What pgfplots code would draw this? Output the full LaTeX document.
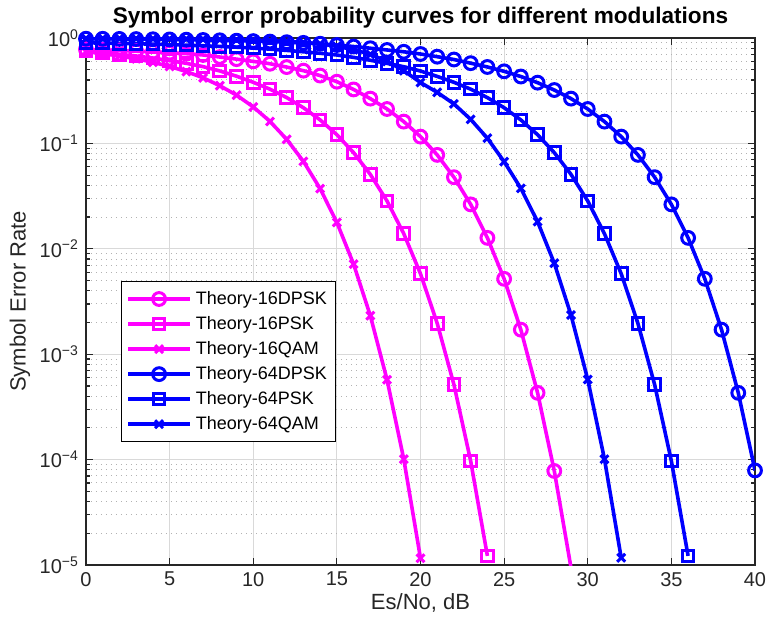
\documentclass[border=0pt]{standalone}
\usepackage{fontspec}
\setmainfont{Liberation Sans}
\usepackage{pgfplots}
\pgfplotsset{compat=1.18}

\definecolor{mag}{RGB}{255,0,255}
\definecolor{blu}{RGB}{0,0,255}

\begin{document}
\begin{tikzpicture}
\begin{axis}[
    at={(0,0)}, anchor=south west,
    scale only axis,
    width=334.5pt, height=263.5pt,
    ymode=log,
    xmin=0, xmax=40, ymin=1e-5, ymax=1,
    xtick={0,5,...,40}, minor x tick num=0,
    ytick={1e-5,1e-4,1e-3,1e-2,1e-1,1},
    yticklabels={10\textsuperscript{−5},10\textsuperscript{−4},10\textsuperscript{−3},10\textsuperscript{−2},10\textsuperscript{−1},10\textsuperscript{0}},
    minor ytick={2e-5,3e-5,4e-5,5e-5,6e-5,7e-5,8e-5,9e-5,
                 2e-4,3e-4,4e-4,5e-4,6e-4,7e-4,8e-4,9e-4,
                 2e-3,3e-3,4e-3,5e-3,6e-3,7e-3,8e-3,9e-3,
                 2e-2,3e-2,4e-2,5e-2,6e-2,7e-2,8e-2,9e-2,
                 0.2,0.3,0.4,0.5,0.6,0.7,0.8,0.9},
    xmajorgrids, ymajorgrids, yminorgrids,
    major grid style={black!15, line width=0.5pt},
    minor grid style={black!30, line width=0.5pt, dash pattern=on 0.5pt off 2pt},
    tick style={black!85, line width=0.6pt},
    major tick length=3.5pt, minor tick length=2pt,
    axis line style={black!85, line width=0.7pt},
    /pgf/number format/assume math mode=true,
    tick label style={font=\fontsize{10}{12}\selectfont, text=black!85},
    xlabel={Es/No, dB},
    ylabel={Symbol Error Rate},
    label style={font=\fontsize{11}{13}\selectfont, text=black!85},
    xlabel style={at={(axis description cs:0.5,0)}, anchor=center, yshift=-19pt},
    ylabel style={at={(axis description cs:-0.0987,0.5)}, anchor=center},
    title={Symbol error probability curves for different modulations},
    title style={font=\fontsize{11.3}{13}\selectfont\bfseries, at={(axis description cs:0.5,1)}, anchor=center, yshift=4pt},
    legend style={at={(0.052,0.538)}, anchor=north west, draw=black, line width=0.5pt,
        fill=white, font=\fontsize{9}{11}\selectfont, row sep=0.5pt, inner sep=2.5pt},
    legend cell align=left,
    legend image code/.code={\draw[mark repeat=2,mark phase=2] plot coordinates {(0pt,0pt) (15.5pt,0pt) (31pt,0pt)};},
    every axis plot/.append style={line width=1.8pt, mark options={solid, line width=1.5pt}},
]

% 16DPSK
\addplot[mag, mark=o, mark size=3.2pt] coordinates {
 (0,0.78) (1,0.77) (2,0.76) (3,0.75) (4,0.74) (5,0.725) (6,0.71) (7,0.69) (8,0.66) (9,0.63)
 (10,0.60) (11,0.57) (12,0.53) (13,0.49) (14,0.44) (15,0.385) (16,0.325) (17,0.266) (18,0.212) (19,0.161)
 (20,0.116) (21,0.0778) (22,0.0478) (23,0.0264) (24,0.0127) (25,0.00519) (26,0.00171) (27,4.3e-4) (28,7.8e-5)
};
\addlegendentry{Theory-16DPSK}
\addplot[mag, forget plot] coordinates {(28,7.8e-5) (29,9.4e-6)};

% 16PSK
\addplot[mag, mark=square, mark size=2.9pt] coordinates {
 (0,0.75) (1,0.725) (2,0.70) (3,0.675) (4,0.645) (5,0.61) (6,0.575) (7,0.535) (8,0.487) (9,0.434)
 (10,0.38) (11,0.327) (12,0.272) (13,0.218) (14,0.167) (15,0.121) (16,0.0817) (17,0.0508) (18,0.0284) (19,0.0139)
 (20,0.0058) (21,0.00196) (22,5.14e-4) (23,9.7e-5) (24,1.22e-5)
};
\addlegendentry{Theory-16PSK}

% 16QAM
\addplot[mag, mark=x, mark size=2.8pt] coordinates {
 (0,0.741) (1,0.710) (2,0.675) (3,0.635) (4,0.589) (5,0.537) (6,0.4805) (7,0.419) (8,0.353) (9,0.287)
 (10,0.222) (11,0.1617) (12,0.1093) (13,0.0675) (14,0.0372) (15,0.01778) (16,0.00716) (17,0.00232) (18,5.72e-4) (19,1.01e-4)
 (20,1.16e-5)
};
\addlegendentry{Theory-16QAM}

% 64DPSK
\addplot[blu, mark=o, mark size=3.2pt] coordinates {
 (0,0.985) (1,0.983) (2,0.98) (3,0.977) (4,0.973) (5,0.969) (6,0.964) (7,0.958) (8,0.951) (9,0.943)
 (10,0.934) (11,0.924) (12,0.912) (13,0.899) (14,0.882) (15,0.858) (16,0.83) (17,0.80) (18,0.77) (19,0.74)
 (20,0.705) (21,0.665) (22,0.625) (23,0.577) (24,0.531) (25,0.483) (26,0.431) (27,0.377) (28,0.321) (29,0.266)
 (30,0.212) (31,0.161) (32,0.116) (33,0.0778) (34,0.0478) (35,0.0264) (36,0.0127) (37,0.00519) (38,0.00171) (39,4.3e-4)
 (40,7.9e-5)
};
\addlegendentry{Theory-64DPSK}

% 64PSK
\addplot[blu, mark=square, mark size=2.9pt] coordinates {
 (0,0.90) (1,0.895) (2,0.89) (3,0.882) (4,0.874) (5,0.865) (6,0.855) (7,0.844) (8,0.832) (9,0.818)
 (10,0.802) (11,0.784) (12,0.763) (13,0.74) (14,0.716) (15,0.69) (16,0.655) (17,0.615) (18,0.575) (19,0.534)
 (20,0.486) (21,0.432) (22,0.38) (23,0.327) (24,0.272) (25,0.218) (26,0.167) (27,0.121) (28,0.0817) (29,0.0508)
 (30,0.0284) (31,0.0139) (32,0.0058) (33,0.00196) (34,5.14e-4) (35,9.7e-5) (36,1.22e-5)
};
\addlegendentry{Theory-64PSK}

% 64QAM
\addplot[blu, mark=x, mark size=2.8pt] coordinates {
 (0,0.99) (1,0.989) (2,0.988) (3,0.986) (4,0.984) (5,0.981) (6,0.978) (7,0.974) (8,0.969) (9,0.963)
 (10,0.955) (11,0.944) (12,0.93) (13,0.91) (14,0.88) (15,0.835) (16,0.775) (17,0.70) (18,0.60) (19,0.49)
 (20,0.378) (21,0.305) (22,0.237) (23,0.169) (24,0.112) (25,0.0671) (26,0.0375) (27,0.0181) (28,0.0073) (29,0.00235)
 (30,5.75e-4) (31,1.01e-4) (32,1.17e-5)
};
\addlegendentry{Theory-64QAM}

\end{axis}
\pgfresetboundingbox
\useasboundingbox (-43pt,-30.5pt) rectangle (340pt,282.5pt);
\end{tikzpicture}
\end{document}
